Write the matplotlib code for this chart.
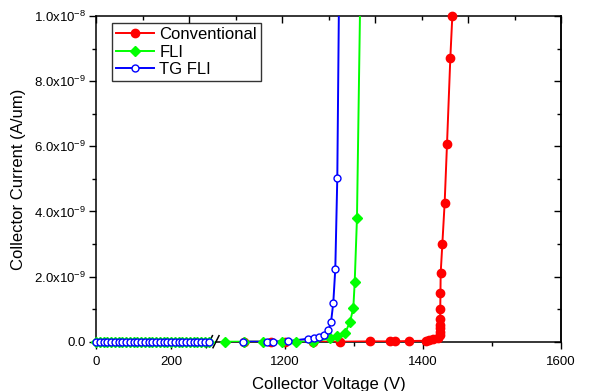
import numpy as np
import matplotlib
matplotlib.use("Agg")
from matplotlib import pyplot as plt
from matplotlib.ticker import FixedLocator, NullFormatter

plt.rcParams['font.family'] = ['Liberation Sans', 'DejaVu Sans']
plt.rcParams['mathtext.default'] = 'regular'

nan = np.nan

# low-voltage sweep (left part of the broken axis), current ~ 0
low_v = [0, 10, 20, 30, 40, 50, 60, 70, 80, 90, 100, 110, 120, 130, 140, 150,
         160, 170, 180, 190, 200, 210, 220, 230, 240, 250, 260, 270, 280, 290, 300]
low_i = [0, 0, 0, 0, 0, 0, 0, 0, 0, 0, 0, 0, 0, 0, 0, 0,
         0, 0, 0, 0, 0, 0, 0, 0, 0, 0, 0, 0, 0, 0, 0]

# high-voltage part, current in units of 1e-9 A/um
conv_v = [1140, 1180, 1200, 1240, 1280, 1323, 1352, 1359, 1379, 1405, 1408,
          1415, 1422, 1424, 1424.5, 1424.6, 1424.7, 1424.8, 1425, 1425.3,
          1425.6, 1428, 1431.4, 1434.8, 1439.6, 1442.5, 1446]
conv_i = [0, 0, 0, 0, 0, 0.01, 0.01, 0.01, 0.02, 0.03, 0.04,
          0.07, 0.12, 0.2, 0.31, 0.41, 0.51, 0.69, 0.99, 1.49,
          2.1, 2.99, 4.27, 6.07, 8.71, 10.0, 11.5]

fli_v = [1113, 1140, 1168, 1196, 1216, 1240, 1265, 1275, 1287.4, 1294.2,
         1299, 1301, 1304.3, 1310]
fli_i = [0, 0, 0, 0, 0, 0, 0.1, 0.17, 0.28, 0.61,
         1.03, 1.82, 3.79, 12.0]

tg_v = [1139, 1174, 1182, 1205, 1233, 1242, 1249, 1257, 1263, 1266.7,
        1270, 1272.9, 1275.8, 1280]
tg_i = [0, 0, 0, 0.02, 0.09, 0.12, 0.15, 0.2, 0.36, 0.6,
        1.2, 2.24, 5.04, 14.5]

x_major = [0, 200, 1200, 1400, 1600]
x_minor = [100, 1300, 1500]
y_major = [0, 2e-9, 4e-9, 6e-9, 8e-9, 1e-8]
y_minor = [1e-9, 3e-9, 5e-9, 7e-9, 9e-9]
y_labels = ['0.0', '2.0x10$^{-9}$', '4.0x10$^{-9}$', '6.0x10$^{-9}$',
            '8.0x10$^{-9}$', '1.0x10$^{-8}$']

# broken x axis: 0-300 and 1100-1600 squeezed onto one scale
brk_v = [-2000, 0, 300, 1100, 1600, 3000]
brk_px = [-750, 0, 112.5, 120, 465, 1431]


def fwd(x):
    return np.interp(x, brk_v, brk_px)


def inv(x):
    return np.interp(x, brk_px, brk_v)


def series(high_v, high_i, with_low):
    v = list(high_v)
    i = [k * 1e-9 for k in high_i]
    if with_low:
        v = low_v + [nan] + v
        i = low_i + [nan] + i
    return np.array(v, float), np.array(i, float)


fig = plt.figure(figsize=(5.9, 3.91), dpi=100)
ax = fig.add_axes([96 / 590, 1 - 341.7 / 391, 465 / 590, 325.7 / 391])
ax.set_xscale('function', functions=(fwd, inv))

styles = [
    ("Conventional", conv_v, conv_i, False, dict(color='#ff0000', marker='o', ms=6, mfc='#ff0000', mec='#ff0000')),
    ("FLI", fli_v, fli_i, True, dict(color='#00ff00', marker='D', ms=5.5, mfc='#00ff00', mec='#00ff00')),
    ("TG FLI", tg_v, tg_i, True, dict(color='#0000ff', marker='o', ms=5, mfc='white', mec='#0000ff', mew=1)),
]

handles = []
labels = []
for name, v, i, with_low, st in styles:
    xv, yv = series(v, i, with_low)
    col = st['color']
    line, = ax.plot(xv, yv, '-', color=col, lw=1.4, zorder=3)
    keep = yv <= 1e-8
    mk = {k: val for k, val in st.items() if k != 'color'}
    marks, = ax.plot(xv[keep], yv[keep], ls='none', clip_on=False, zorder=4, **mk)
    handles.append((line, marks))
    labels.append(name)

ax.set_xlim(0, 1600)
ax.set_ylim(0, 1e-8)

ax.xaxis.set_major_locator(FixedLocator(x_major))
ax.xaxis.set_minor_locator(FixedLocator(x_minor))
ax.set_xticklabels([str(t) for t in x_major])
ax.xaxis.set_minor_formatter(NullFormatter())
ax.yaxis.set_major_locator(FixedLocator(y_major))
ax.yaxis.set_minor_locator(FixedLocator(y_minor))
ax.set_yticklabels(y_labels)

ax.tick_params(which='both', direction='out', top=False, right=False,
               labelsize=9.5, width=1, pad=2)
ax.tick_params(axis='x', which='major', pad=5)
ax.tick_params(which='major', length=5)
ax.tick_params(which='minor', length=3)

for s in ax.spines.values():
    s.set_linewidth(1.1)
ax.spines['bottom'].set_visible(False)

# bottom axis drawn in two pieces with break marks
tr = ax.get_xaxis_transform()
ax.plot([0, 300], [0, 0], color='k', lw=1.1, transform=tr, clip_on=False, zorder=2.5)
ax.plot([1100, 1600], [0, 0], color='k', lw=1.1, transform=tr, clip_on=False, zorder=2.5)
dx, dy = 3 / 465, 6 / 325.7
for xa in (112.5 / 465 + 0.002, 120 / 465):
    ax.plot([xa - dx, xa + dx], [-dy, dy], color='k', lw=1.1,
            transform=ax.transAxes, clip_on=False, zorder=2.5)

# mirrored right axis with inward ticks
right = ax.secondary_yaxis('right')
right.yaxis.set_major_locator(FixedLocator(y_major))
right.yaxis.set_minor_locator(FixedLocator(y_minor))
right.tick_params(which='both', direction='in', labelright=False, width=1)
right.tick_params(which='major', length=5)
right.tick_params(which='minor', length=3)
right.spines['right'].set_linewidth(1.1)

# top axis ticks (evenly spaced, no labels)
top = ax.twiny()
top.set_xlim(0, 10)
top.xaxis.set_major_locator(FixedLocator([0, 2, 4, 6, 8, 10]))
top.xaxis.set_minor_locator(FixedLocator([1, 3, 5, 7, 9]))
top.tick_params(which='both', direction='in', labeltop=False, width=1)
top.tick_params(which='major', length=5)
top.tick_params(which='minor', length=3)
for s in top.spines.values():
    s.set_visible(False)

ax.set_xlabel("Collector Voltage (V)", fontsize=12, labelpad=7)
ax.set_ylabel("Collector Current (A/um)", fontsize=12, labelpad=6)

ax.legend(handles, labels, loc='upper left', bbox_to_anchor=(0.034, 0.978),
          borderaxespad=0, fontsize=12, frameon=True, fancybox=False,
          edgecolor='black', handlelength=2.3, handletextpad=0.3,
          labelspacing=0.15, borderpad=0.25, numpoints=1).get_frame().set_linewidth(1)

fig.savefig("out.png", dpi=100)
